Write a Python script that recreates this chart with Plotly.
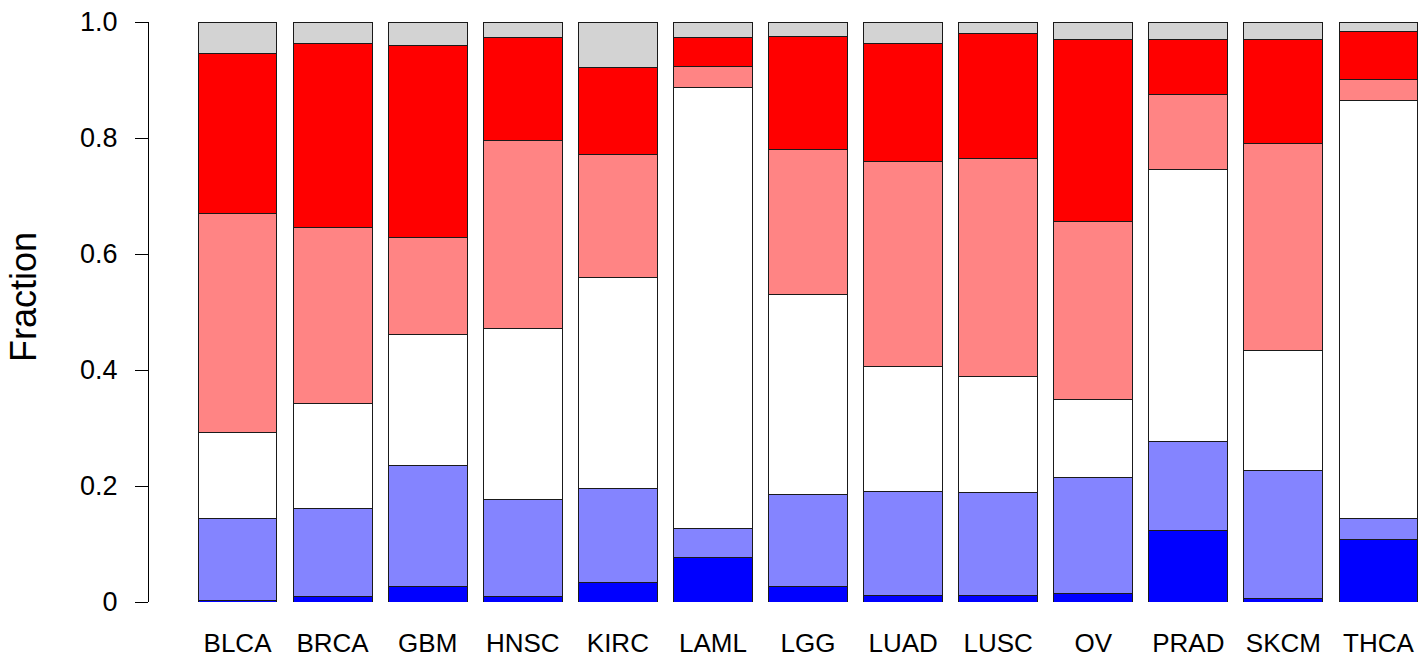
import plotly.graph_objects as go

# Tumour types along the x axis
cancers = ["BLCA", "BRCA", "GBM", "HNSC", "KIRC", "LAML", "LGG",
           "LUAD", "LUSC", "OV", "PRAD", "SKCM", "THCA"]

# Fraction of samples in each class, stacked from bottom to top
deep_blue = [0.002, 0.010, 0.027, 0.009, 0.034, 0.076, 0.027,
             0.012, 0.012, 0.014, 0.123, 0.006, 0.107]
light_blue = [0.142, 0.151, 0.209, 0.167, 0.161, 0.051, 0.158,
              0.179, 0.177, 0.201, 0.154, 0.220, 0.037]
white = [0.149, 0.182, 0.226, 0.296, 0.365, 0.760, 0.345,
         0.215, 0.199, 0.134, 0.469, 0.208, 0.721]
light_red = [0.377, 0.302, 0.167, 0.323, 0.212, 0.037, 0.250,
             0.354, 0.376, 0.307, 0.129, 0.356, 0.036]
deep_red = [0.275, 0.3175, 0.330, 0.179, 0.150, 0.050, 0.195,
            0.203, 0.217, 0.314, 0.095, 0.180, 0.082]
grey = [0.055, 0.0375, 0.041, 0.026, 0.078, 0.026, 0.025,
        0.037, 0.019, 0.030, 0.030, 0.030, 0.017]

y_ticks = [0, 0.2, 0.4, 0.6, 0.8, 1.0]
y_tick_labels = ["0", "0.2", "0.4", "0.6", "0.8", "1.0"]

series = [
    ("deep_blue", deep_blue, "#0000FF"),
    ("light_blue", light_blue, "#8484FF"),
    ("white", white, "#FFFFFF"),
    ("light_red", light_red, "#FF8484"),
    ("deep_red", deep_red, "#FF0000"),
    ("grey", grey, "#D3D3D3"),
]

FONT = "Liberation Sans, Arial, Helvetica, sans-serif"

fig = go.Figure()
for name, vals, col in series:
    fig.add_trace(go.Bar(
        x=cancers, y=vals, name=name, width=0.83,
        marker=dict(color=col, line=dict(color="#1a1a1a", width=1)),
        showlegend=False,
    ))

fig.update_layout(
    barmode="stack",
    width=1428, height=657,
    margin=dict(l=149, r=7, t=22, b=55),
    paper_bgcolor="white", plot_bgcolor="white",
    font=dict(family=FONT, size=26, color="black"),
    xaxis=dict(
        range=[-0.931, 12.447],
        showline=False, showgrid=False, zeroline=False,
        ticks="", ticklabelstandoff=23, automargin=False,
        tickfont=dict(size=26),
    ),
    yaxis=dict(
        range=[0, 1],
        tickvals=y_ticks, ticktext=y_tick_labels,
        showline=True, linecolor="black", linewidth=1,
        ticks="outside", ticklen=13, tickcolor="black", tickwidth=1,
        ticklabelstandoff=12, automargin=False,
        showgrid=False, zeroline=False,
        tickfont=dict(size=27),
    ),
    annotations=[dict(
        text="Fraction", textangle=-90,
        xref="paper", yref="paper",
        x=(23 - 149) / 1272, y=(602 - 297) / 580,
        xanchor="center", yanchor="middle",
        showarrow=False, font=dict(size=36, family=FONT),
    )],
)

fig.write_html("out.html")
